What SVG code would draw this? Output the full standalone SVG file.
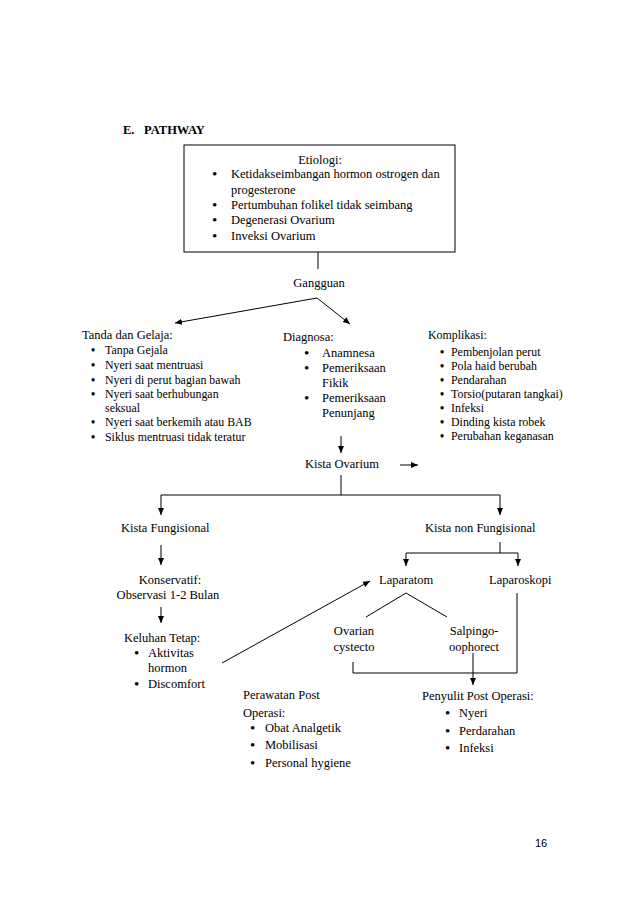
<svg xmlns="http://www.w3.org/2000/svg" width="638" height="903" viewBox="0 0 638 903">
<defs>
<style>
text{font-family:"Liberation Serif","Times New Roman",serif;fill:#000;}
.m{font-size:12.5px;}
.s{font-size:11.9px;}
.u{font-size:15px;}
.v{font-size:11.9px;font-weight:bold;}
.b{font-size:12.5px;font-weight:bold;}
.c{text-anchor:middle;}
.ln{stroke:#000;stroke-width:1;fill:none;}
.ar{stroke:#000;stroke-width:1;fill:none;marker-end:url(#ah);}
</style>
<marker id="ah" markerWidth="8" markerHeight="8" refX="7" refY="4" orient="auto" markerUnits="userSpaceOnUse">
<path d="M0,1 L7,4 L0,7 Z" fill="#000"/>
</marker>
</defs>
<rect width="638" height="903" fill="#fff"/>

<g id="title">
<text class="b" x="123" y="134">E.</text>
<text class="b" x="144" y="134">PATHWAY</text>
</g>

<g id="etiologi">
<rect x="184" y="145" width="271" height="107" fill="none" stroke="#000" stroke-width="1"/>
<text class="m c" x="320" y="164">Etiologi:</text>
<text class="u" x="212" y="179">•</text>
<text class="m" x="231" y="178">Ketidakseimbangan hormon ostrogen dan</text>
<text class="m" x="231" y="194">progesterone</text>
<text class="u" x="212" y="210">•</text>
<text class="m" x="231" y="209">Pertumbuhan folikel tidak seimbang</text>
<text class="u" x="212" y="225">•</text>
<text class="m" x="231" y="224">Degenerasi Ovarium</text>
<text class="u" x="212" y="241">•</text>
<text class="m" x="231" y="240">Inveksi Ovarium</text>
</g>

<g id="gangguan">
<text class="m c" x="319" y="287">Gangguan</text>
</g>

<g id="tanda">
<text class="m" x="82" y="339">Tanda dan Gelaja:</text>
<text class="v" x="91" y="354">•</text><text class="s" x="105" y="354">Tanpa Gejala</text>
<text class="v" x="91" y="369">•</text><text class="s" x="105" y="369">Nyeri saat mentruasi</text>
<text class="v" x="91" y="384">•</text><text class="s" x="105" y="384">Nyeri di perut bagian bawah</text>
<text class="v" x="91" y="398">•</text><text class="s" x="105" y="398">Nyeri saat berhubungan</text>
<text class="s" x="105" y="412">seksual</text>
<text class="v" x="91" y="426">•</text><text class="s" x="105" y="426">Nyeri saat berkemih atau BAB</text>
<text class="v" x="91" y="441">•</text><text class="s" x="105" y="441">Siklus mentruasi tidak teratur</text>
</g>

<g id="diagnosa">
<text class="m" x="283" y="341">Diagnosa:</text>
<text class="u" x="304" y="358">•</text><text class="m" x="322" y="357">Anamnesa</text>
<text class="u" x="304" y="373">•</text><text class="m" x="322" y="372">Pemeriksaan</text>
<text class="m" x="322" y="387">Fikik</text>
<text class="u" x="304" y="403">•</text><text class="m" x="322" y="402">Pemeriksaan</text>
<text class="m" x="322" y="417">Penunjang</text>
</g>

<g id="komplikasi">
<text class="s" x="428" y="339">Komplikasi:</text>
<text class="v" x="440" y="356">•</text><text class="s" x="451" y="356">Pembenjolan perut</text>
<text class="v" x="440" y="370">•</text><text class="s" x="451" y="370">Pola haid berubah</text>
<text class="v" x="440" y="384">•</text><text class="s" x="451" y="384">Pendarahan</text>
<text class="v" x="440" y="398">•</text><text class="s" x="451" y="398">Torsio(putaran tangkai)</text>
<text class="v" x="440" y="412">•</text><text class="s" x="451" y="412">Infeksi</text>
<text class="v" x="440" y="426">•</text><text class="s" x="451" y="426">Dinding kista robek</text>
<text class="v" x="440" y="440">•</text><text class="s" x="451" y="440">Perubahan keganasan</text>
</g>

<g id="kista-ovarium">
<text class="m" x="305" y="468">Kista Ovarium</text>
</g>

<g id="kista-fungisional">
<text class="m" x="121" y="532">Kista Fungisional</text>
</g>

<g id="kista-non-fungisional">
<text class="m" x="425" y="532">Kista non Fungisional</text>
</g>

<g id="konservatif">
<text class="m c" x="170" y="584">Konservatif:</text>
<text class="m c" x="168" y="599">Observasi 1-2 Bulan</text>
</g>

<g id="keluhan">
<text class="m" x="124" y="642">Keluhan Tetap:</text>
<text class="u" x="134" y="658">•</text><text class="m" x="148" y="657">Aktivitas</text>
<text class="m" x="148" y="672">hormon</text>
<text class="u" x="134" y="689">•</text><text class="m" x="148" y="688">Discomfort</text>
</g>

<g id="laparatom">
<text class="m" x="379" y="584">Laparatom</text>
</g>

<g id="laparoskopi">
<text class="m" x="489" y="584">Laparoskopi</text>
</g>

<g id="ovarian">
<text class="m c" x="354" y="635">Ovarian</text>
<text class="m c" x="354" y="651">cystecto</text>
</g>

<g id="salpingo">
<text class="m c" x="474" y="635">Salpingo-</text>
<text class="m c" x="474" y="651">oophorect</text>
</g>

<g id="perawatan">
<text class="m" x="243" y="699">Perawatan Post</text>
<text class="m" x="243" y="717">Operasi:</text>
<text class="u" x="250" y="733">•</text><text class="m" x="265" y="732">Obat Analgetik</text>
<text class="u" x="250" y="750">•</text><text class="m" x="265" y="749">Mobilisasi</text>
<text class="u" x="250" y="768">•</text><text class="m" x="265" y="767">Personal hygiene</text>
</g>

<g id="penyulit">
<text class="m" x="422" y="700">Penyulit Post Operasi:</text>
<text class="u" x="445" y="718">•</text><text class="m" x="459" y="717">Nyeri</text>
<text class="u" x="445" y="736">•</text><text class="m" x="459" y="735">Perdarahan</text>
<text class="u" x="445" y="753">•</text><text class="m" x="459" y="752">Infeksi</text>
</g>

<g id="page-number">
<text x="535" y="847" style="font-family:'Liberation Sans',Arial,sans-serif;font-size:11px;">16</text>
</g>

<g id="connectors">
<line class="ln" x1="318" y1="252" x2="318" y2="269"/>
<line class="ar" x1="317" y1="298" x2="175" y2="323"/>
<line class="ar" x1="317" y1="298" x2="350" y2="324"/>
<line class="ar" x1="341" y1="436" x2="341" y2="453"/>
<line class="ar" x1="400" y1="465" x2="418" y2="465"/>
<polyline class="ln" points="341,475 341,495"/>
<line class="ln" x1="161" y1="495" x2="500" y2="495"/>
<line class="ar" x1="161" y1="495" x2="161" y2="515"/>
<line class="ar" x1="500" y1="495" x2="500" y2="515"/>
<line class="ar" x1="161" y1="545" x2="161" y2="565"/>
<line class="ar" x1="161" y1="607" x2="161" y2="623"/>
<line class="ln" x1="500" y1="542" x2="500" y2="553"/>
<line class="ln" x1="406" y1="553" x2="518" y2="553"/>
<line class="ar" x1="406" y1="553" x2="406" y2="566"/>
<line class="ar" x1="518" y1="553" x2="518" y2="566"/>
<line class="ar" x1="222" y1="663" x2="370" y2="581"/>
<line class="ln" x1="406" y1="593" x2="366" y2="617"/>
<line class="ln" x1="406" y1="593" x2="447" y2="617"/>
<polyline class="ln" points="353,662 353,673 517,673 517,593"/>
<line class="ar" x1="473" y1="653" x2="473" y2="685"/>
</g>
</svg>
